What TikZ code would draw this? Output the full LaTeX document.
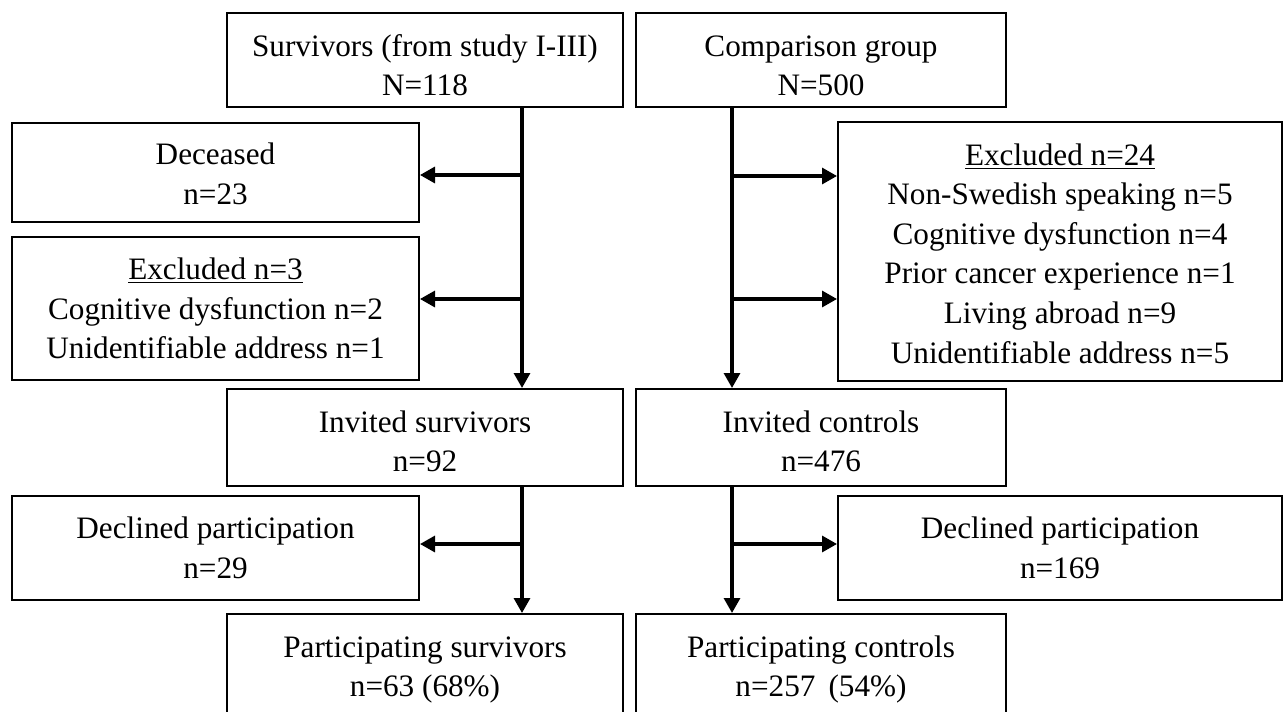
\documentclass[tikz,border=0pt]{standalone}
\usepackage{fontspec}
\setmainfont{Liberation Serif}
\usetikzlibrary{arrows.meta}
\newcommand\topstrut[1]{\rule{0pt}{#1}}
\begin{document}
\begin{tikzpicture}[x=0.5pt,y=-0.5pt,
  box/.style={draw, line width=1pt, align=center, inner sep=0pt,
    font=\fontsize{15.6}{19.8}\selectfont},
  arr/.style={-{Triangle[length=7.5pt,width=8pt]}, line width=1.6pt}]
\clip (0,0) rectangle (1288,711);
\useasboundingbox (0,0) rectangle (1288,711);
% top row
\node[box, minimum width=198pt, minimum height=47pt] (surv) at (425,60)
  {\topstrut{16.2pt}Survivors (from study I-III)\\N=118};
\node[box, minimum width=185pt, minimum height=47pt] (comp) at (821,60)
  {\topstrut{16.2pt}Comparison group\\N=500};
% left exclusions
\node[box, minimum width=203.5pt, minimum height=49.5pt] (dec) at (215.5,172.5)
  {\topstrut{12.2pt}Deceased\\n=23};
\node[box, minimum width=203.5pt, minimum height=71.5pt] (exl) at (215.5,308.5)
  {\underline{Excluded n=3}\\Cognitive dysfunction n=2\\Unidentifiable address n=1};
% right exclusions
\node[box, minimum width=222pt, minimum height=129.5pt] (exr) at (1060,251.5)
  {\topstrut{12.7pt}\underline{Excluded n=24}\\Non-Swedish speaking n=5\\Cognitive dysfunction n=4\\Prior cancer experience n=1\\Living abroad n=9\\Unidentifiable address n=5};
% invited
\node[box, minimum width=198pt, minimum height=48.5pt] (invs) at (425,437.5)
  {\topstrut{14.7pt}Invited survivors\\n=92};
\node[box, minimum width=185pt, minimum height=48.5pt] (invc) at (821,437.5)
  {\topstrut{14.7pt}Invited controls\\n=476};
% declined
\node[box, minimum width=203.5pt, minimum height=52pt] (decl) at (215.5,548)
  {Declined participation\\n=29};
\node[box, minimum width=222pt, minimum height=52pt] (decr) at (1060,548)
  {Declined participation\\n=169};
% participating (cut off by the lower edge)
\node[box, minimum width=198pt, minimum height=52pt] (parts) at (425,666)
  {\topstrut{14.2pt}Participating survivors\\n=63 (68\%)};
\node[box, minimum width=185pt, minimum height=52pt] (partc) at (821,666)
  {\topstrut{14.2pt}Participating controls\\n=257\hspace{0.42em}(54\%)};
% columns and branch points
\coordinate (lc) at (522,0);
\coordinate (rc) at (732,0);
\coordinate (b1) at (522,175);
\coordinate (b2) at (522,299);
\coordinate (b3) at (732,176);
\coordinate (b4) at (732,299);
\coordinate (b5) at (522,544);
\coordinate (b6) at (732,544);
% connectors
\draw[arr] (surv.south -| lc) -- (invs.north -| lc);
\draw[arr] (comp.south -| rc) -- (invc.north -| rc);
\draw[arr] (invs.south -| lc) -- (parts.north -| lc);
\draw[arr] (invc.south -| rc) -- (partc.north -| rc);
\draw[arr] (b1) -- (dec.east |- b1);
\draw[arr] (b2) -- (exl.east |- b2);
\draw[arr] (b3) -- (exr.west |- b3);
\draw[arr] (b4) -- (exr.west |- b4);
\draw[arr] (b5) -- (decl.east |- b5);
\draw[arr] (b6) -- (decr.west |- b6);
\end{tikzpicture}
\end{document}
